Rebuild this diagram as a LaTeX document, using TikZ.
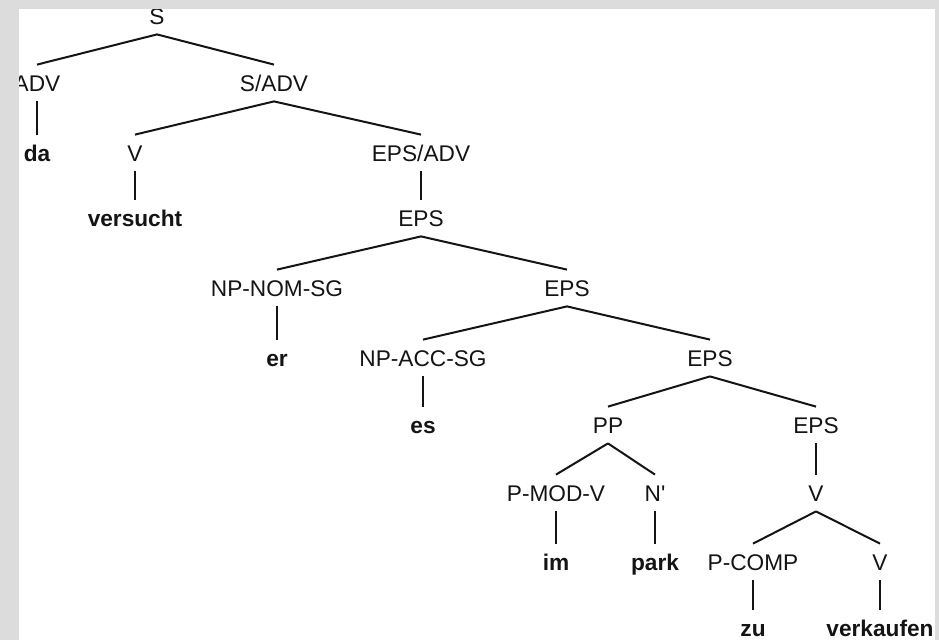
\documentclass[tikz,border=0pt]{standalone}
\usepackage{fontspec}
\setmainfont{Liberation Sans}
\definecolor{frame}{RGB}{220,220,220}
\definecolor{ink}{RGB}{20,20,20}
\usetikzlibrary{positioning}

\begin{document}
\begin{tikzpicture}[x=0.75pt, y=-0.75pt,
    cat/.style={inner xsep=0pt, inner ysep=7.5pt, text height=12.2pt, text depth=0pt,
      font=\fontsize{17}{20}\selectfont, text=ink},
    word/.style={cat, font=\fontsize{17}{20}\selectfont\bfseries},
    edge/.style={ink, line width=1.5pt}]
  \fill[frame] (0,0) rectangle (939,640);
  \fill[white] (19,9) rectangle (935,640);
  \begin{scope}
    \clip (19,9) rectangle (935,640);
    % categories and words, row by row
    \node[cat] (s) at (157,16) {S};
    \node[cat] (adv) at (37,83) {ADV};
    \node[cat] (sadv) at (274,83) {S/ADV};
    \node[word] (da) at (37,153) {da};
    \node[cat] (v1) at (135,153) {V};
    \node[cat] (epsadv) at (421,153) {EPS/ADV};
    \node[word] (versucht) at (135,218) {versucht};
    \node[cat] (eps1) at (421,218) {EPS};
    \node[cat] (npnom) at (277,288) {NP-NOM-SG};
    \node[cat] (eps2) at (567,288) {EPS};
    \node[word] (er) at (277,358) {er};
    \node[cat] (npacc) at (423,358) {NP-ACC-SG};
    \node[cat] (eps3) at (710,358) {EPS};
    \node[word] (es) at (423,425) {es};
    \node[cat] (pp) at (608,425) {PP};
    \node[cat] (eps4) at (816,425) {EPS};
    \node[cat] (pmod) at (556,493) {P-MOD-V};
    \node[cat] (nbar) at (655,493) {N\textquotesingle};
    \node[cat] (v2) at (816,493) {V};
    \node[word] (im) at (556,562) {im};
    \node[word] (park) at (655,562) {park};
    \node[cat] (pcomp) at (753,562) {P-COMP};
    \node[cat] (v3) at (880,562) {V};
    \node[word] (zu) at (753,628) {zu};
    \node[word] (verkaufen) at (880,628) {verkaufen};
    % branches
    \foreach \a/\b in {s/adv, s/sadv, adv/da, sadv/v1, sadv/epsadv, v1/versucht,
        epsadv/eps1, eps1/npnom, eps1/eps2, npnom/er, eps2/npacc, eps2/eps3,
        npacc/es, eps3/pp, eps3/eps4, pp/pmod, pp/nbar, eps4/v2, pmod/im,
        nbar/park, v2/pcomp, v2/v3, pcomp/zu, v3/verkaufen}
      \draw[edge] (\a.south) -- (\b.north);
  \end{scope}
\end{tikzpicture}
\end{document}
